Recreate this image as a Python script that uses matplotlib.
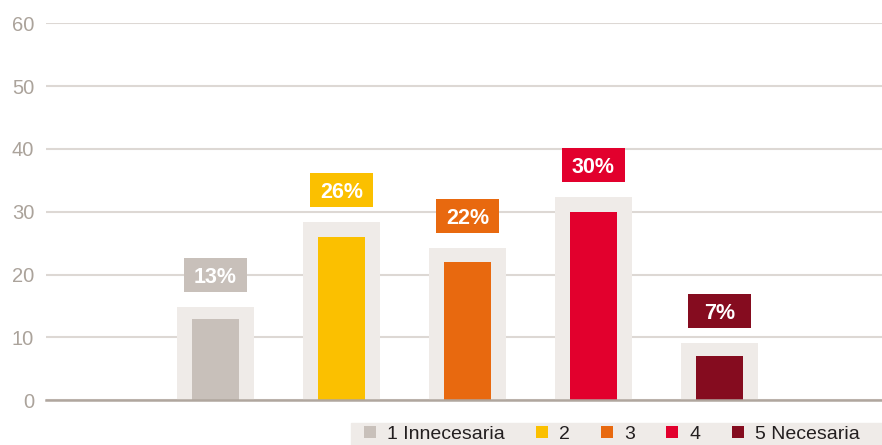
import matplotlib
matplotlib.use("Agg")
import matplotlib.pyplot as plt
from matplotlib.lines import Line2D
from matplotlib.patches import Rectangle

categories = ["1 Innecesaria", "2", "3", "4", "5 Necesaria"]
values = [13, 26, 22, 30, 7]
backdrop = [14.9, 28.4, 24.2, 32.4, 9.1]
labels = ["13%", "26%", "22%", "30%", "7%"]
colors = ["#C8C0BA", "#FBC000", "#E8690F", "#E2002D", "#850C1F"]
yticks = [0, 10, 20, 30, 40, 50, 60]

BG = "#EFEBE8"

def main():
    plt.rcParams['font.family'] = ['Liberation Sans', 'DejaVu Sans']
    fig = plt.figure(figsize=(8.82, 4.45), dpi=100)
    ax = fig.add_axes([46 / 882, 44.7 / 445, 836 / 882, 377 / 445])

    x = list(range(len(values)))
    # light backdrop bars and the coloured bars on top
    ax.bar(x, backdrop, width=0.611, color=BG, zorder=2)
    ax.bar(x, values, width=0.373, color=colors, zorder=3)

    # label boxes sitting above each backdrop bar
    gap = 2.4
    box_h = 5.4
    ax.bar(x, [box_h] * len(x), bottom=[b + gap for b in backdrop],
           width=0.5, color=colors, zorder=3, clip_on=False)
    for xi, b, lab in zip(x, backdrop, labels):
        ax.text(xi, b + gap + box_h / 2, lab, ha='center', va='center_baseline',
                color='white', fontsize=15.5, fontweight='bold', zorder=4)

    ax.set_xlim(-1.345, 5.29)
    ax.set_ylim(0, 60)
    ax.set_yticks(yticks)
    ax.set_xticks([])
    ax.yaxis.grid(True, color="#DDD8D4", linewidth=1.5)
    ax.set_axisbelow(True)
    ax.tick_params(axis='y', length=0, pad=8.5, labelsize=14.5, labelcolor="#ABA39B")
    for s in ['top', 'right', 'left']:
        ax.spines[s].set_visible(False)
    ax.spines['bottom'].set_color("#B0A69E")
    ax.spines['bottom'].set_linewidth(1.8)
    ax.spines['bottom'].set_zorder(5)

    # legend strip
    fig.add_artist(Rectangle((351 / 882, 0), 531 / 882, 22 / 445,
                             transform=fig.transFigure, color=BG, zorder=0))
    handles = [Line2D([], [], linestyle='none', marker='s', markersize=8.6,
                      markerfacecolor=c, markeredgewidth=0) for c in colors]
    fig.legend(handles, categories, loc='center left',
               bbox_to_anchor=(364 / 882, 11 / 445), ncol=5, frameon=False,
               fontsize=14, handlelength=0.62, handletextpad=0.57,
               columnspacing=1.6, borderpad=0, borderaxespad=0,
               labelcolor="#231F20")

    fig.savefig("out.png", dpi=100)

if __name__ == "__main__":
    main()
